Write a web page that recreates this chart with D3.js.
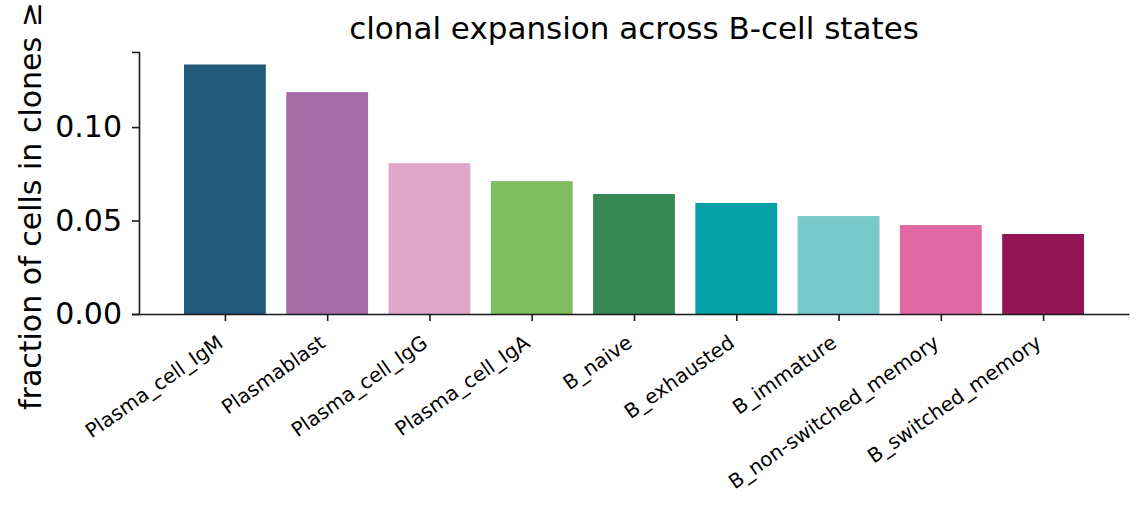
<!DOCTYPE html>
<html>
<head>
<meta charset="utf-8">
<script src="https://cdn.jsdelivr.net/npm/d3@7"></script>
<style>
  body { margin: 0; background: #fff; }
  svg text { font-family: "DejaVu Sans", "DejaVu Sans Book", sans-serif; }
</style>
</head>
<body>
<script>
const states = [
  "Plasma_cell_IgM", "Plasmablast", "Plasma_cell_IgG", "Plasma_cell_IgA", "B_naive",
  "B_exhausted", "B_immature", "B_non-switched_memory", "B_switched_memory",
];
const fractions = [0.1335, 0.1187, 0.0807, 0.0711, 0.0642, 0.0594, 0.0524, 0.0476, 0.0428];
const barColors = [
  "#215a7b", "#a56ca5", "#e0a8c8", "#7fbb61", "#368751",
  "#03a0a6", "#77c8cb", "#e069a4", "#941553",
];
const yTicks = [0.0, 0.05, 0.1];

const width = 1144, height = 507;
const margin = { top: 52, right: 15, bottom: 193, left: 139 };
const innerWidth = width - margin.left - margin.right;
const innerHeight = height - margin.top - margin.bottom;

const svg = d3.select("body").append("svg")
  .attr("width", width)
  .attr("height", height);

const g = svg.append("g")
  .attr("transform", `translate(${margin.left},${margin.top})`);

// matplotlib-style 5% margins around the bars
const n = states.length;
const pad = 0.05 * (n - 1 + 0.8);
const x = d3.scaleLinear()
  .domain([-0.4 - pad, n - 1 + 0.4 + pad])
  .range([0, innerWidth]);

const y = d3.scaleLinear()
  .domain([0, d3.max(fractions) * 1.05])
  .range([innerHeight, 0]);

g.selectAll("rect.bar")
  .data(fractions)
  .join("rect")
  .attr("class", "bar")
  .attr("x", (d, i) => x(i - 0.4))
  .attr("width", x(0.8) - x(0))
  .attr("y", (d) => y(d))
  .attr("height", (d) => y(0) - y(d))
  .attr("fill", (d, i) => barColors[i]);

// y axis
const yAxis = g.append("g")
  .call(d3.axisLeft(y).tickValues(yTicks).tickFormat(d3.format(".2f")).tickSize(7).tickPadding(10));
yAxis.selectAll("text").attr("font-size", 30).attr("fill", "#000");
yAxis.selectAll("line").attr("stroke", "#1a1a1a").attr("stroke-width", 1.6);
yAxis.select(".domain").attr("stroke", "#1a1a1a").attr("stroke-width", 1.6);

// x axis
const xAxis = g.append("g")
  .attr("transform", `translate(0,${innerHeight})`)
  .call(d3.axisBottom(x).tickValues(d3.range(n)).tickFormat((i) => states[i]).tickSize(7).tickSizeOuter(0));
xAxis.select(".domain").attr("stroke", "#1a1a1a").attr("stroke-width", 1.6);
xAxis.selectAll("line").attr("stroke", "#1a1a1a").attr("stroke-width", 1.6);
xAxis.selectAll("text")
  .attr("font-size", 20)
  .attr("fill", "#000")
  .attr("text-anchor", "end")
  .attr("dy", "0.35em")
  .attr("x", 0)
  .attr("y", 0)
  .attr("transform", "translate(-5,26) rotate(-35)");

// title
svg.append("text")
  .attr("x", margin.left + innerWidth / 2)
  .attr("y", 39)
  .attr("text-anchor", "middle")
  .attr("font-size", 31)
  .attr("fill", "#000")
  .text("clonal expansion across B-cell states");

// y label, running off the top edge as in the reference
svg.append("text")
  .attr("transform", "translate(41,410) rotate(-90)")
  .attr("text-anchor", "start")
  .attr("font-size", 30)
  .attr("fill", "#000")
  .text("fraction of cells in clones \u2265 2 cells");
</script>
</body>
</html>
